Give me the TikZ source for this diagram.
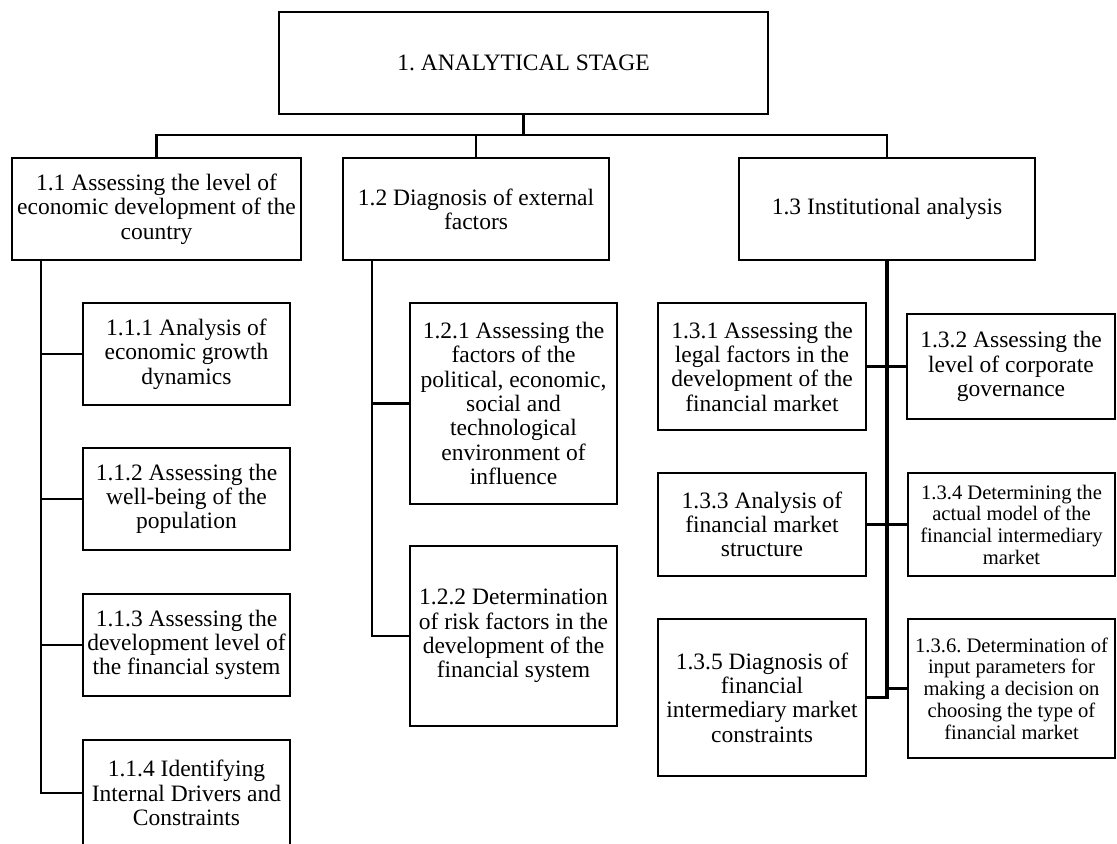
\documentclass[tikz,border=0pt]{standalone}
\usepackage{fontspec}
\setmainfont{Liberation Serif}
\usepackage{tikz}
\usetikzlibrary{positioning}
\frenchspacing
\tikzset{
  box/.style={draw, line width=1.25pt, align=center, inner sep=0pt, font=\fontsize{11.75}{12.15}\selectfont},
  smallbox/.style={box, font=\fontsize{10.3}{10.85}\selectfont},
  link/.style={line width=1.15pt},
  spine/.style={line width=1.7pt}
}

\begin{document}
\begin{tikzpicture}[x=0.5pt,y=-0.5pt] % one unit = one pixel of the page
 \useasboundingbox (0,0) rectangle (1117,843); % page size
 % stage and its three parts
 \node[box, minimum width=244.5pt, minimum height=51pt] (s1) at (523.5,63) {1. ANALYTICAL STAGE};
 \node[box, minimum width=144.5pt, minimum height=51pt] (s11) at (156.5,209) {1.1 Assessing the level of\\economic development of the\\country};
 \node[box, minimum width=133pt, minimum height=51pt] (s12) at (476,209) {1.2 Diagnosis of external\\factors};
 \node[box, minimum width=148pt, minimum height=51pt] (s13) at (887,209) {1.3 Institutional analysis};
 % 1.1 column
 \node[box, minimum width=103.5pt, minimum height=51pt] (s111) at (186.5,354) {1.1.1 Analysis of\\economic growth\\dynamics};
 \node[box, minimum width=103.5pt, minimum height=51pt] (s112) at (186.5,499) {1.1.2 Assessing the\\well-being of the\\population};
 \node[box, minimum width=103.5pt, minimum height=51pt] (s113) at (186.5,645) {1.1.3 Assessing the\\development level of\\the financial system};
 \node[box, minimum width=103.5pt, minimum height=53pt] (s114) at (186.5,793) {1.1.4 Identifying\\Internal Drivers and\\Constraints};
 % 1.2 column
 \node[box, minimum width=103.5pt, minimum height=100.5pt] (s121) at (513.5,403.5) {1.2.1 Assessing the\\factors of the\\political, economic,\\social and\\technological\\environment of\\influence};
 \node[box, minimum width=103.5pt, minimum height=90pt] (s122) at (513.5,636) {1.2.2 Determination\\of risk factors in the\\development of the\\financial system};
 % 1.3 column
 \node[box, minimum width=104pt, minimum height=63.5pt] (s131) at (762,366.5) {1.3.1 Assessing the\\legal factors in the\\development of the\\financial market};
 \node[box, minimum width=104pt, minimum height=52.5pt] (s132) at (1011,366.5) {1.3.2 Assessing the\\level of corporate\\governance};
 \node[box, minimum width=104pt, minimum height=51.5pt] (s133) at (762,524.5) {1.3.3 Analysis of\\financial market\\structure};
 \node[smallbox, minimum width=103.5pt, minimum height=51.5pt] (s134) at (1011.5,524.5) {1.3.4 Determining the\\actual model of the\\financial intermediary\\market};
 \node[box, minimum width=104pt, minimum height=78.5pt] (s135) at (762,697.5) {1.3.5 Diagnosis of\\financial\\intermediary market\\constraints};
 \node[smallbox, minimum width=103.5pt, minimum height=69.5pt] (s136) at (1011.5,688.5) {1.3.6. Determination of\\input parameters for\\making a decision on\\choosing the type of\\financial market};
 % top level links
 \coordinate (bar) at (523.5,135);
 \draw[spine] (s1) -- (bar);
 \foreach \n in {s11,s12,s13}
 {\draw[link] (bar) -| (\n);}
 % 1.1 links
 \coordinate (v11) at (41,0);
 \draw[link] (v11 |- s11.south) |- (s114);
 \foreach \n in {s111,s112,s113}
 {\draw[link] (v11 |- \n) -- (\n);}
 % 1.2 links
 \coordinate (v12) at (372,0);
 \draw[link] (v12 |- s12.south) |- (s122);
 \draw[link] (v12 |- s121) -- (s121);
 % 1.3 links
 \draw[spine] (s13) |- (s135);
 \foreach \n in {s131,s132,s133,s134,s136}
 {\draw[link] (s13.south |- \n) -- (\n);}
\end{tikzpicture}
\end{document}
